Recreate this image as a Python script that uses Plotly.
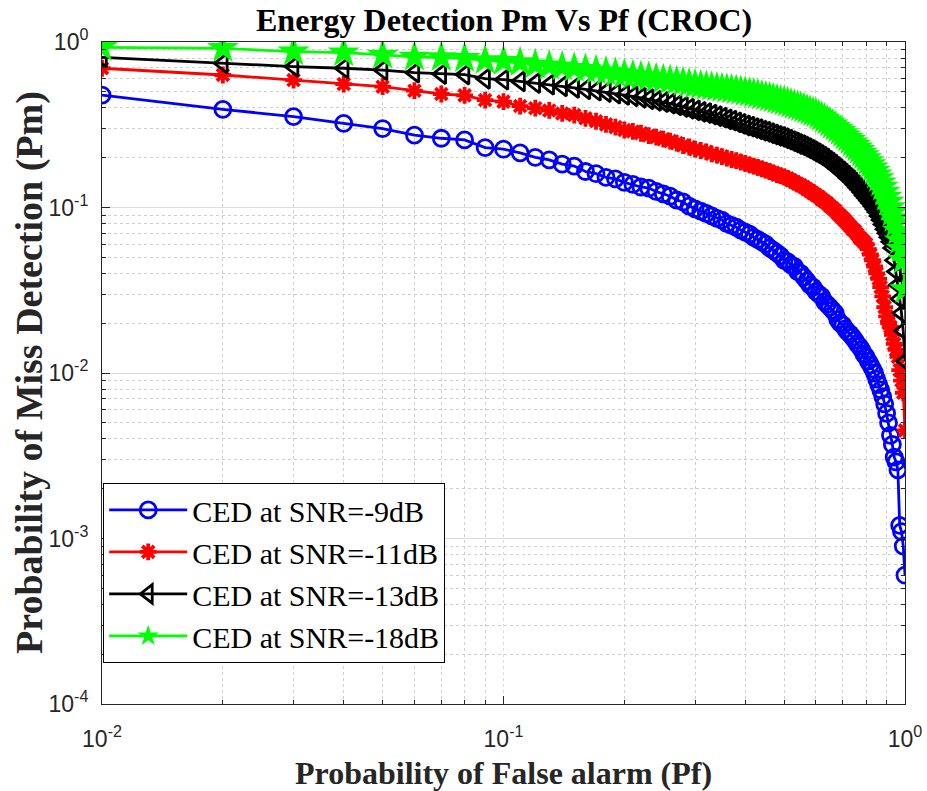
import plotly.graph_objects as go

pf = [0.01, 0.02, 0.03, 0.04, 0.05, 0.06, 0.07, 0.08, 0.09, 0.10,
      0.11, 0.12, 0.13, 0.14, 0.15, 0.16, 0.17, 0.18, 0.19, 0.20,
      0.21, 0.22, 0.23, 0.24, 0.25, 0.26, 0.27, 0.28, 0.29, 0.30,
      0.31, 0.32, 0.33, 0.34, 0.35, 0.36, 0.37, 0.38, 0.39, 0.40,
      0.41, 0.42, 0.43, 0.44, 0.45, 0.46, 0.47, 0.48, 0.49, 0.50,
      0.51, 0.52, 0.53, 0.54, 0.55, 0.56, 0.57, 0.58, 0.59, 0.60,
      0.61, 0.62, 0.63, 0.64, 0.65, 0.66, 0.67, 0.68, 0.69, 0.70,
      0.71, 0.72, 0.73, 0.74, 0.75, 0.76, 0.77, 0.78, 0.79, 0.80,
      0.81, 0.82, 0.83, 0.84, 0.85, 0.86, 0.87, 0.88, 0.89, 0.90,
      0.91, 0.92, 0.93, 0.94, 0.95, 0.96, 0.97, 0.98, 0.99, 1.00]

pm_snr9 = [0.478, 0.392, 0.354, 0.322, 0.300, 0.274, 0.262, 0.256, 0.230, 0.225,
           0.214, 0.201, 0.194, 0.183, 0.178, 0.165, 0.160, 0.152, 0.149, 0.142,
           0.138, 0.133, 0.131, 0.125, 0.121, 0.117, 0.111, 0.108, 0.102, 0.098,
           0.095, 0.092, 0.089, 0.086, 0.084, 0.080, 0.078, 0.076, 0.073, 0.071,
           0.069, 0.066, 0.064, 0.062, 0.060, 0.057, 0.055, 0.053, 0.051, 0.048,
           0.047, 0.045, 0.044, 0.041, 0.040, 0.038, 0.036, 0.034, 0.033, 0.031,
           0.030, 0.029, 0.027, 0.026, 0.025, 0.024, 0.023, 0.021, 0.020, 0.0195,
           0.0185, 0.0177, 0.0172, 0.0165, 0.0158, 0.0150, 0.0145, 0.0138, 0.0130, 0.0125,
           0.0118, 0.0112, 0.0106, 0.0100, 0.0092, 0.0085, 0.0079, 0.0072, 0.0065, 0.0057,
           0.0050, 0.0042, 0.0037, 0.0031, 0.0029, 0.0026, 0.0012, 0.0011, 0.0009, 0.0006]

pm_snr11 = [0.694, 0.632, 0.589, 0.557, 0.537, 0.508, 0.485, 0.476, 0.446, 0.436,
            0.410, 0.398, 0.386, 0.370, 0.362, 0.346, 0.332, 0.318, 0.306, 0.294,
            0.288, 0.281, 0.272, 0.266, 0.259, 0.252, 0.245, 0.237, 0.232, 0.225,
            0.221, 0.217, 0.211, 0.207, 0.203, 0.199, 0.195, 0.192, 0.188, 0.185,
            0.181, 0.178, 0.175, 0.171, 0.168, 0.165, 0.162, 0.158, 0.156, 0.153,
            0.150, 0.146, 0.143, 0.139, 0.136, 0.133, 0.129, 0.126, 0.122, 0.119,
            0.116, 0.112, 0.109, 0.106, 0.102, 0.099, 0.096, 0.092, 0.089, 0.086,
            0.083, 0.080, 0.077, 0.074, 0.072, 0.069, 0.066, 0.064, 0.062, 0.060,
            0.056, 0.052, 0.048, 0.044, 0.040, 0.037, 0.033, 0.029, 0.025, 0.022,
            0.020, 0.019, 0.017, 0.015, 0.0138, 0.0125, 0.0104, 0.0090, 0.0076, 0.0045]

pm_snr13 = [0.808, 0.743, 0.710, 0.694, 0.677, 0.653, 0.641, 0.636, 0.600, 0.592,
            0.578, 0.565, 0.553, 0.540, 0.528, 0.518, 0.508, 0.499, 0.488, 0.479,
            0.470, 0.460, 0.451, 0.441, 0.433, 0.424, 0.414, 0.405, 0.395, 0.386,
            0.378, 0.372, 0.364, 0.356, 0.349, 0.341, 0.335, 0.327, 0.320, 0.313,
            0.308, 0.302, 0.297, 0.291, 0.287, 0.281, 0.276, 0.271, 0.267, 0.262,
            0.257, 0.252, 0.247, 0.242, 0.238, 0.233, 0.228, 0.223, 0.218, 0.213,
            0.208, 0.203, 0.198, 0.192, 0.187, 0.182, 0.176, 0.171, 0.166, 0.161,
            0.156, 0.151, 0.147, 0.142, 0.137, 0.132, 0.128, 0.123, 0.118, 0.114,
            0.110, 0.106, 0.102, 0.098, 0.094, 0.089, 0.084, 0.079, 0.074, 0.070,
            0.066, 0.062, 0.057, 0.048, 0.041, 0.034, 0.028, 0.023, 0.018, 0.0118]

pm_snr18 = [0.929, 0.916, 0.874, 0.862, 0.835, 0.812, 0.806, 0.797, 0.774, 0.765,
            0.752, 0.730, 0.718, 0.709, 0.695, 0.684, 0.672, 0.660, 0.647, 0.636,
            0.628, 0.619, 0.611, 0.602, 0.594, 0.586, 0.577, 0.569, 0.560, 0.551,
            0.545, 0.539, 0.534, 0.529, 0.524, 0.519, 0.514, 0.509, 0.504, 0.498,
            0.492, 0.486, 0.480, 0.473, 0.467, 0.461, 0.455, 0.448, 0.442, 0.436,
            0.430, 0.423, 0.416, 0.410, 0.403, 0.397, 0.390, 0.383, 0.376, 0.370,
            0.361, 0.352, 0.343, 0.334, 0.325, 0.316, 0.307, 0.298, 0.289, 0.280,
            0.272, 0.263, 0.255, 0.246, 0.238, 0.230, 0.222, 0.214, 0.206, 0.198,
            0.190, 0.182, 0.174, 0.166, 0.158, 0.150, 0.141, 0.133, 0.124, 0.116,
            0.108, 0.100, 0.093, 0.086, 0.080, 0.072, 0.063, 0.056, 0.048, 0.032]

series_names = ["CED at SNR=-9dB", "CED at SNR=-11dB", "CED at SNR=-13dB", "CED at SNR=-18dB"]

x_tickvals = [0.01, 0.1, 1]
x_ticktext = ["10<sup>-2</sup>", "10<sup>-1</sup>", "10<sup>0</sup>"]
y_tickvals = [0.0001, 0.001, 0.01, 0.1, 1]
y_ticktext = ["10<sup>-4</sup>", "10<sup>-3</sup>", "10<sup>-2</sup>", "10<sup>-1</sup>", "10<sup>0</sup>"]

styles = [
    dict(color="#0000FF", symbol="circle-open", size=16, mlw=2.8),
    dict(color="#FF0000", symbol="asterisk-open", size=14, mlw=3.8),
    dict(color="#000000", symbol="triangle-left-open", size=17, mlw=2.8),
    dict(color="#00FF00", symbol="star", size=24, mlw=0),
]

fig = go.Figure()
for name, ys, st in zip(series_names, [pm_snr9, pm_snr11, pm_snr13, pm_snr18], styles):
    fig.add_trace(go.Scatter(
        x=pf, y=ys, mode="lines+markers", name=name,
        line=dict(color=st["color"], width=2.8),
        marker=dict(symbol=st["symbol"], size=st["size"], color=st["color"],
                    line=dict(color=st["color"], width=st["mlw"])),
    ))

axis_color = "#262626"
grid_major = "#dcdcdc"
grid_minor = "#cfcfcf"

fig.update_layout(
    width=927, height=791,
    margin=dict(l=102, r=22, t=42, b=87, autoexpand=False),
    paper_bgcolor="white", plot_bgcolor="white",
    showlegend=True,
    legend=dict(
        x=0.0015, y=0.334, xanchor="left", yanchor="top",
        bgcolor="white", bordercolor="#000000", borderwidth=1,
        font=dict(family="Liberation Serif", size=30, color="black"),
        itemwidth=78, tracegroupgap=0,
    ),
)

fig.add_annotation(text="<b>Energy Detection Pm Vs Pf (CROC)</b>", xref="paper", yref="paper",
                   x=0.5, y=1.0, yshift=22, showarrow=False, xanchor="center", yanchor="middle",
                   font=dict(family="Liberation Serif", size=32, color="black"))
fig.add_annotation(text="<b>Probability of False alarm (Pf)</b>", xref="paper", yref="paper",
                   x=0.5, y=0.0, yshift=-69, showarrow=False, xanchor="center", yanchor="middle",
                   font=dict(family="Liberation Serif", size=32, color="#262626"))
fig.add_annotation(text="<b>Probability of Miss Detection (Pm)</b>", xref="paper", yref="paper",
                   x=0.0, y=0.5, xshift=-73, showarrow=False, xanchor="center", yanchor="middle",
                   textangle=-90,
                   font=dict(family="Liberation Serif", size=38, color="#262626"))

common = dict(
    type="log", showline=True, linecolor=axis_color, linewidth=1, mirror="allticks",
    ticks="inside", ticklen=8, tickcolor=axis_color, tickwidth=1,
    tickfont=dict(family="Liberation Sans", size=23, color=axis_color),
    showgrid=True, gridcolor=grid_major, gridwidth=1, zeroline=False,
    tickmode="array", automargin=False,
    minor=dict(showgrid=True, gridcolor=grid_minor, griddash="dot", gridwidth=1,
               ticks="inside", ticklen=4, tickcolor=axis_color, dtick="D1"),
)

fig.update_xaxes(**common, range=[-2, 0], tickvals=x_tickvals, ticktext=x_ticktext,
                 griddash="dot", ticklabelstandoff=14)
fig.update_yaxes(**common, range=[-4, 0], tickvals=y_tickvals, ticktext=y_ticktext,
                 griddash="solid", ticklabelstandoff=8)

fig.write_html("out.html")
